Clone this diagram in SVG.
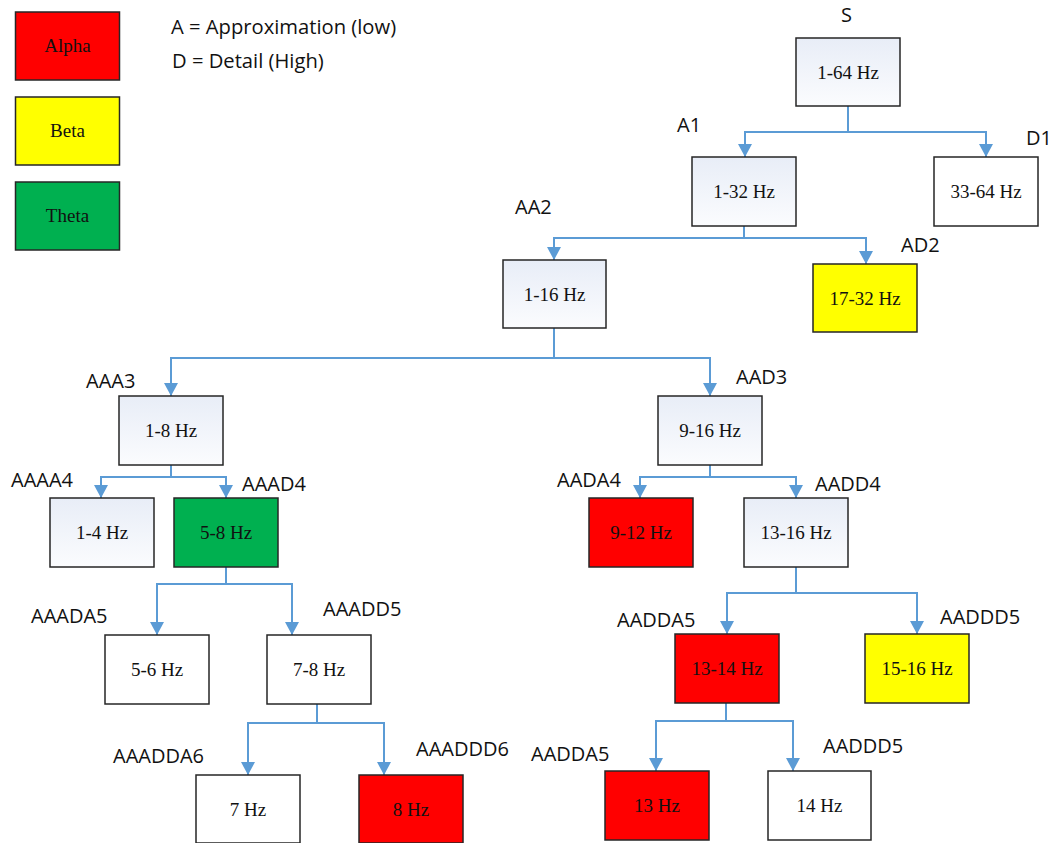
<svg xmlns="http://www.w3.org/2000/svg" width="1053" height="843" viewBox="0 0 1053 843">
<style>
.box{stroke:#262626;stroke-width:1.5}
.g{fill:url(#grad)}
.w{fill:#ffffff}
.r{fill:#ff0000}
.y{fill:#ffff00}
.gr{fill:#00b050}
.t{font-family:"Liberation Serif","Times New Roman",serif;font-size:19px;fill:#111;text-anchor:middle}
.lb{font-family:"Open Sans","DejaVu Sans",sans-serif;font-size:20px;fill:#111}
.lg{font-family:"Open Sans","DejaVu Sans",sans-serif;font-size:20.2px;fill:#111}
.c{fill:none;stroke:#5b9bd5;stroke-width:2;marker-end:url(#arr)}
.c0{fill:none;stroke:#5b9bd5;stroke-width:2}
</style>
<defs>
<linearGradient id="grad" x1="0" y1="0" x2="0" y2="1">
<stop offset="0" stop-color="#e8edf7"/>
<stop offset="1" stop-color="#fbfcfe"/>
</linearGradient>
<marker id="arr" markerUnits="userSpaceOnUse" markerWidth="15" markerHeight="15" refX="13" refY="7" orient="auto">
<path d="M0,0 L13,7 L0,14 z" fill="#5b9bd5"/>
</marker>
</defs>
<rect width="1053" height="843" fill="#ffffff"/>

<g id="legend">
<rect class="box r" x="15.5" y="12" width="104" height="68"/>
<text class="t" x="67.5" y="52">Alpha</text>
<rect class="box y" x="15.5" y="97" width="104" height="68"/>
<text class="t" x="67.5" y="137">Beta</text>
<rect class="box gr" x="15.5" y="182" width="104" height="68"/>
<text class="t" x="67.5" y="222">Theta</text>
<text class="lg" x="171" y="34">A = Approximation (low)</text>
<text class="lg" x="172" y="68">D = Detail (High)</text>
</g>

<g id="connectors">
<path class="c0" d="M848,106 V132"/>
<path class="c" d="M848,132 H745 V157"/>
<path class="c" d="M848,132 H986 V157"/>
<path class="c0" d="M744,226 V238"/>
<path class="c" d="M744,238 H554 V260"/>
<path class="c" d="M744,238 H866 V264"/>
<path class="c0" d="M554,328 V358"/>
<path class="c" d="M554,358 H171 V396"/>
<path class="c" d="M554,358 H710 V396"/>
<path class="c0" d="M171,465 V477"/>
<path class="c" d="M171,477 H101 V498"/>
<path class="c" d="M171,477 H226 V498"/>
<path class="c0" d="M710,465 V477"/>
<path class="c" d="M710,477 H640 V498"/>
<path class="c" d="M710,477 H796 V498"/>
<path class="c0" d="M226,567 V584"/>
<path class="c" d="M226,584 H157 V635"/>
<path class="c" d="M226,584 H292 V635"/>
<path class="c0" d="M796,567 V593"/>
<path class="c" d="M796,593 H727 V634"/>
<path class="c" d="M796,593 H917 V634"/>
<path class="c0" d="M317,704 V723"/>
<path class="c" d="M317,723 H248 V775"/>
<path class="c" d="M317,723 H384 V775"/>
<path class="c0" d="M726,703 V721"/>
<path class="c" d="M726,721 H656 V771"/>
<path class="c" d="M726,721 H793 V771"/>
</g>

<g id="S">
<rect class="box g" x="796" y="38" width="104" height="68"/>
<text class="t" x="848" y="78.5">1-64 Hz</text>
<text class="lb" x="841" y="22">S</text>
</g>
<g id="A1">
<rect class="box g" x="692" y="157" width="104" height="69"/>
<text class="t" x="744" y="198">1-32 Hz</text>
<text class="lb" x="677" y="132">A1</text>
</g>
<g id="D1">
<rect class="box w" x="934" y="157" width="104" height="69"/>
<text class="t" x="986" y="198">33-64 Hz</text>
<text class="lb" x="1026" y="145">D1</text>
</g>
<g id="AD2">
<rect class="box y" x="813" y="264" width="104" height="68"/>
<text class="t" x="865" y="304.5">17-32 Hz</text>
<text class="lb" x="901" y="252">AD2</text>
</g>
<g id="AA2">
<rect class="box g" x="503" y="260" width="103" height="68"/>
<text class="t" x="554.5" y="300.5">1-16 Hz</text>
<text class="lb" x="515" y="214">AA2</text>
</g>
<g id="AAA3">
<rect class="box g" x="119" y="396" width="104" height="69"/>
<text class="t" x="171" y="437">1-8 Hz</text>
<text class="lb" x="86" y="388">AAA3</text>
</g>
<g id="AAD3">
<rect class="box g" x="658" y="396" width="104" height="69"/>
<text class="t" x="710" y="437">9-16 Hz</text>
<text class="lb" x="736" y="384">AAD3</text>
</g>
<g id="AAAA4">
<rect class="box g" x="50" y="498" width="104" height="69"/>
<text class="t" x="102" y="539">1-4 Hz</text>
<text class="lb" x="11" y="487">AAAA4</text>
</g>
<g id="AAAD4">
<rect class="box gr" x="174" y="498" width="104" height="69"/>
<text class="t" x="226" y="539">5-8 Hz</text>
<text class="lb" x="242" y="490.5">AAAD4</text>
</g>
<g id="AADA4">
<rect class="box r" x="589" y="498" width="104" height="69"/>
<text class="t" x="641" y="539">9-12 Hz</text>
<text class="lb" x="557" y="487">AADA4</text>
</g>
<g id="AADD4">
<rect class="box g" x="744" y="498" width="104" height="69"/>
<text class="t" x="796" y="539">13-16 Hz</text>
<text class="lb" x="815" y="490.5">AADD4</text>
</g>
<g id="AAADA5">
<rect class="box w" x="105" y="635" width="104" height="69"/>
<text class="t" x="157" y="676">5-6 Hz</text>
<text class="lb" x="31" y="623">AAADA5</text>
</g>
<g id="AAADD5">
<rect class="box w" x="267" y="635" width="104" height="69"/>
<text class="t" x="319" y="676">7-8 Hz</text>
<text class="lb" x="323" y="616">AAADD5</text>
</g>
<g id="AADDA5">
<rect class="box r" x="675" y="634" width="104" height="69"/>
<text class="t" x="727" y="675">13-14 Hz</text>
<text class="lb" x="617" y="627">AADDA5</text>
</g>
<g id="AADDD5">
<rect class="box y" x="865" y="634" width="104" height="69"/>
<text class="t" x="917" y="675">15-16 Hz</text>
<text class="lb" x="940" y="624">AADDD5</text>
</g>
<g id="AAADDA6">
<rect class="box w" x="196" y="775" width="104" height="68"/>
<text class="t" x="248" y="815.5">7 Hz</text>
<text class="lb" x="113" y="763">AAADDA6</text>
</g>
<g id="AAADDD6">
<rect class="box r" x="359" y="775" width="104" height="68"/>
<text class="t" x="411" y="815.5">8 Hz</text>
<text class="lb" x="416" y="756">AAADDD6</text>
</g>
<g id="AADDA5b">
<rect class="box r" x="605" y="771" width="104" height="69"/>
<text class="t" x="657" y="812">13 Hz</text>
<text class="lb" x="531" y="760.5">AADDA5</text>
</g>
<g id="AADDD5b">
<rect class="box w" x="768" y="771" width="103" height="69"/>
<text class="t" x="819.5" y="812">14 Hz</text>
<text class="lb" x="823" y="753">AADDD5</text>
</g>
</svg>
